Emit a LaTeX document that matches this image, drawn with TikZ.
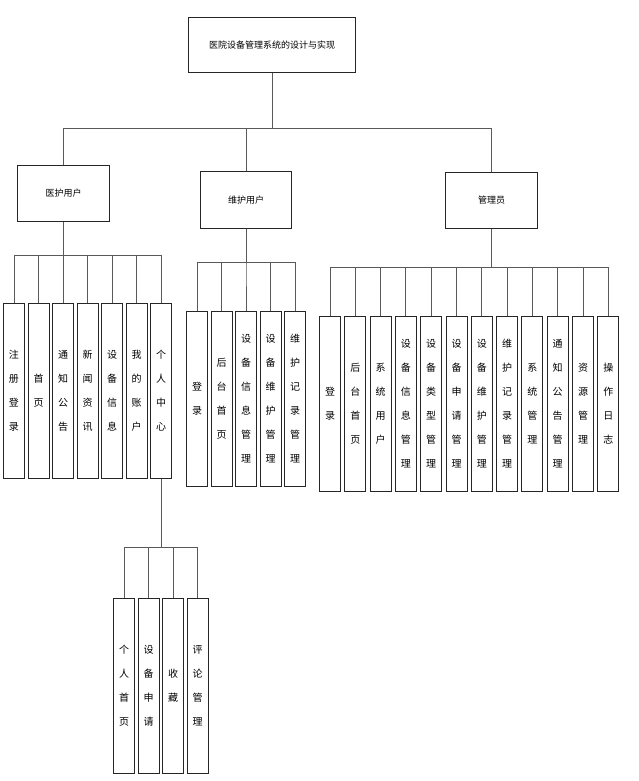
\documentclass[tikz,border=0pt]{standalone}
\usepackage{fontspec}
\setmainfont{Noto Sans CJK SC}
\usetikzlibrary{positioning}

\begin{document}
\begin{tikzpicture}[
		x=1pt, y=1pt,
		node distance=2.6pt,
		box/.style={rectangle, draw=black!85, line width=0.9pt, font=\fontsize{9}{11}\selectfont, inner sep=0pt},
		vbox/.style={rectangle, draw=black!85, line width=0.9pt, minimum width=21pt, minimum height=175pt, inner sep=0pt, align=center, font=\fontsize{10}{24}\selectfont},
		link/.style={draw=black!65, line width=1pt}
		]
		\useasboundingbox (0,0) rectangle (639,781);
		
		% Top levels
		\node[box, minimum width=167pt, minimum height=55pt] (root) at (272,736) {医院设备管理系统的设计与实现};
		\node[box, minimum width=92pt, minimum height=56pt] (yh) at (63.5,587.5) {医护用户};
		\node[box, minimum width=91pt, minimum height=57pt] (wh) at (246,581) {维护用户};
		\node[box, minimum width=92pt, minimum height=56pt] (gl) at (491.5,580.5) {管理员};
		
		% Medical user
		\node[vbox] (y1) at (14,390) {注\\册\\登\\录};
		\node[vbox, right=of y1] (y2) {首\\页};
		\node[vbox, right=of y2] (y3) {通\\知\\公\\告};
		\node[vbox, right=of y3] (y4) {新\\闻\\资\\讯};
		\node[vbox, right=of y4] (y5) {设\\备\\信\\息};
		\node[vbox, right=of y5] (y6) {我\\的\\账\\户};
		\node[vbox, right=of y6] (y7) {个\\人\\中\\心};
		
		% Personal center
		\node[vbox] (p1) at (124,95) {个\\人\\首\\页};
		\node[vbox, right=of p1] (p2) {设\\备\\申\\请};
		\node[vbox, right=of p2] (p3) {收\\藏};
		\node[vbox, right=of p3] (p4) {评\\论\\管\\理};
		
		% Maintenance user
		\node[vbox] (w1) at (197,382.5) {登\\录};
		\node[vbox, right=of w1] (w2) {后\\台\\首\\页};
		\node[vbox, right=of w2] (w3) {设\\备\\信\\息\\管\\理};
		\node[vbox, right=of w3] (w4) {设\\备\\维\\护\\管\\理};
		\node[vbox, right=of w4] (w5) {维\\护\\记\\录\\管\\理};
		
		% Administrator
		\node[vbox] (g1) at (330,377) {登\\录};
		\node[vbox, right=3.4pt of g1] (g2) {后\\台\\首\\页};
		\node[vbox, right=3.4pt of g2] (g3) {系\\统\\用\\户};
		\node[vbox, right=3.4pt of g3] (g4) {设\\备\\信\\息\\管\\理};
		\node[vbox, right=3.4pt of g4] (g5) {设\\备\\类\\型\\管\\理};
		\node[vbox, right=3.4pt of g5] (g6) {设\\备\\申\\请\\管\\理};
		\node[vbox, right=3.4pt of g6] (g7) {设\\备\\维\\护\\管\\理};
		\node[vbox, right=3.4pt of g7] (g8) {维\\护\\记\\录\\管\\理};
		\node[vbox, right=3.4pt of g8] (g9) {系\\统\\管\\理};
		\node[vbox, right=3.4pt of g9] (g10) {通\\知\\公\\告\\管\\理};
		\node[vbox, right=3.4pt of g10] (g11) {资\\源\\管\\理};
		\node[vbox, right=3.4pt of g11] (g12) {操\\作\\日\\志};
		
		% Edges
		\draw[link] (root.south) -- ++(0,-56) -| (yh.north);
		\draw[link] (root.south) -- ++(0,-56) -| (wh.north);
		\draw[link] (root.south) -- ++(0,-56) -| (gl.north);
		
		\draw[link] (yh.south) -- ++(0,-34) -| (y1.north);
		\draw[link] (yh.south) -- ++(0,-34) -| (y2.north);
		\draw[link] (yh.south) -- ++(0,-34) -| (y3.north);
		\draw[link] (yh.south) -- ++(0,-34) -| (y4.north);
		\draw[link] (yh.south) -- ++(0,-34) -| (y5.north);
		\draw[link] (yh.south) -- ++(0,-34) -| (y6.north);
		\draw[link] (yh.south) -- ++(0,-34) -| (y7.north);
		
		\draw[link] (y7.south) -- ++(0,-69) -| (p1.north);
		\draw[link] (y7.south) -- ++(0,-69) -| (p2.north);
		\draw[link] (y7.south) -- ++(0,-69) -| (p3.north);
		\draw[link] (y7.south) -- ++(0,-69) -| (p4.north);
		
		\draw[link] (wh.south) -- ++(0,-34) -| (w1.north);
		\draw[link] (wh.south) -- ++(0,-34) -| (w2.north);
		\draw[link] (wh.south) -- ++(0,-34) -| (w3.north);
		\draw[link] (wh.south) -- ++(0,-34) -| (w4.north);
		\draw[link] (wh.south) -- ++(0,-34) -| (w5.north);
		
		\draw[link] (gl.south) -- ++(0,-39) -| (g1.north);
		\draw[link] (gl.south) -- ++(0,-39) -| (g2.north);
		\draw[link] (gl.south) -- ++(0,-39) -| (g3.north);
		\draw[link] (gl.south) -- ++(0,-39) -| (g4.north);
		\draw[link] (gl.south) -- ++(0,-39) -| (g5.north);
		\draw[link] (gl.south) -- ++(0,-39) -| (g6.north);
		\draw[link] (gl.south) -- ++(0,-39) -| (g7.north);
		\draw[link] (gl.south) -- ++(0,-39) -| (g8.north);
		\draw[link] (gl.south) -- ++(0,-39) -| (g9.north);
		\draw[link] (gl.south) -- ++(0,-39) -| (g10.north);
		\draw[link] (gl.south) -- ++(0,-39) -| (g11.north);
		\draw[link] (gl.south) -- ++(0,-39) -| (g12.north);
		
	\end{tikzpicture}
\end{document}
